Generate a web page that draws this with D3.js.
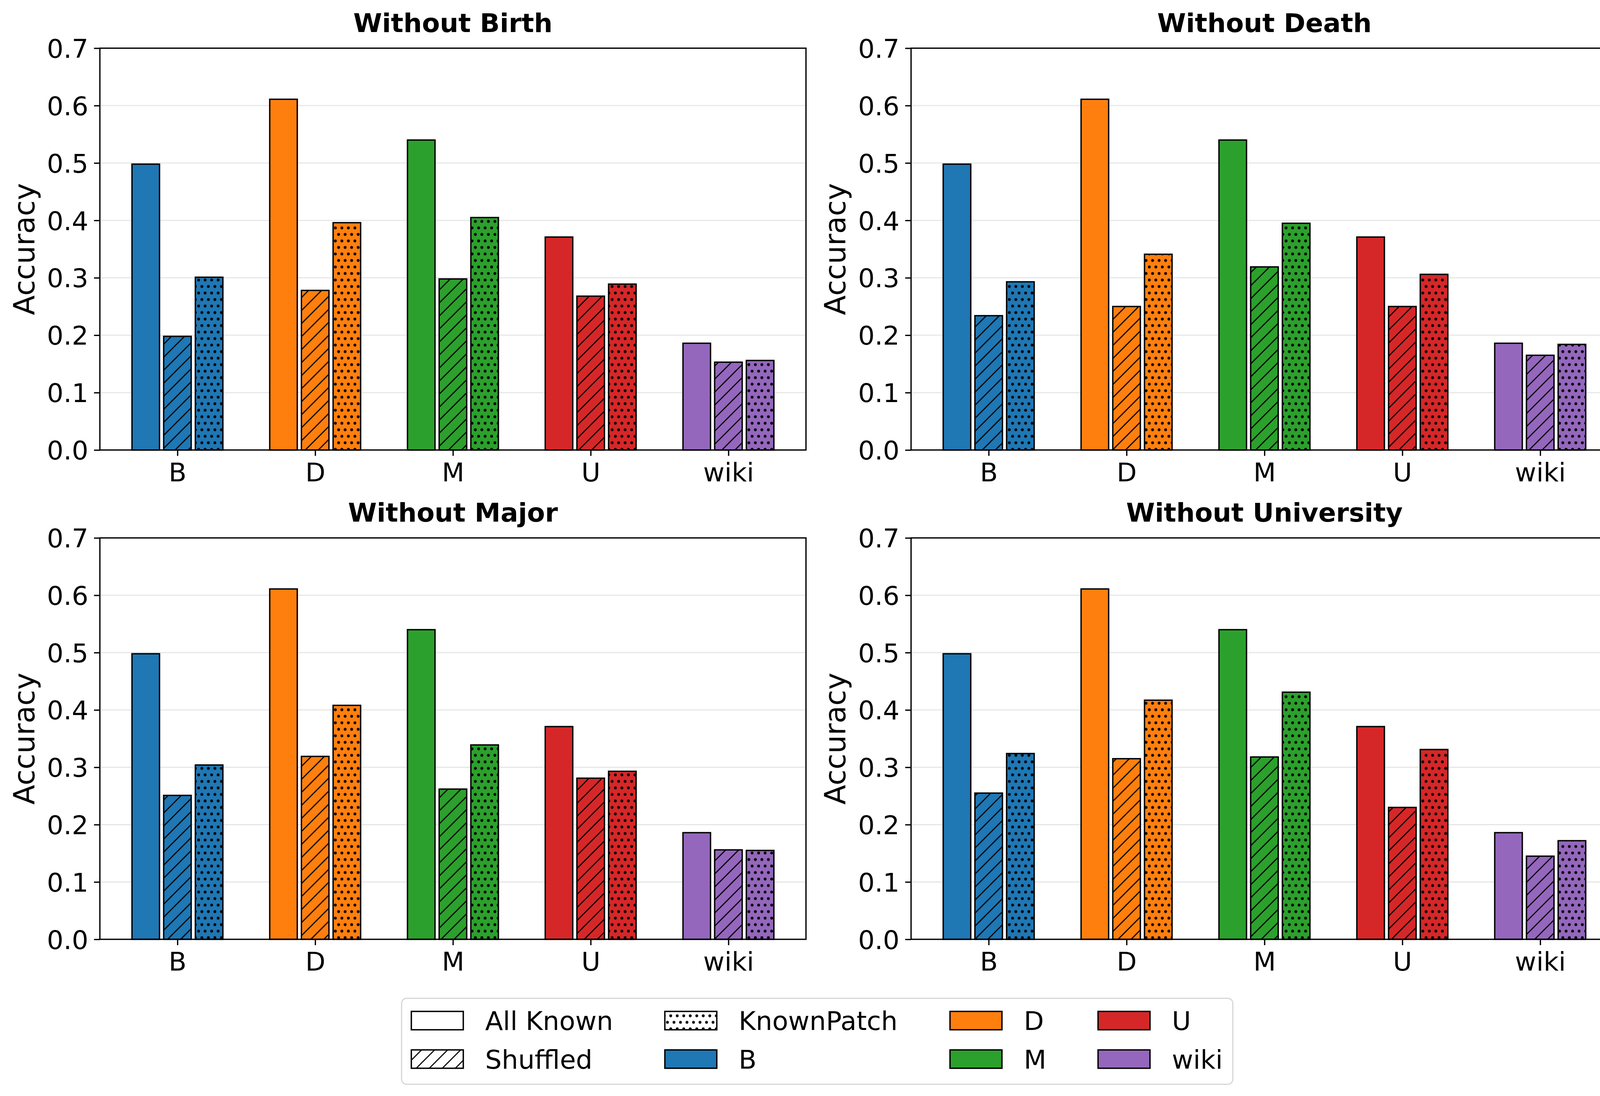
<!DOCTYPE html>
<html>
<head>
<meta charset="utf-8">
<script src="https://cdn.jsdelivr.net/npm/d3@7"></script>
<style>
  html, body { margin: 0; padding: 0; background: #ffffff; }
  svg { display: block; }
  text { font-family: "DejaVu Sans", sans-serif; fill: #000; }
</style>
</head>
<body>
<div id="chart"></div>
<script>
// ---------------- DATA ----------------
const categories = ["B", "D", "M", "U", "wiki"];
const conditions = ["All Known", "Shuffled", "KnownPatch"];
const panelTitles = ["Without Birth", "Without Death", "Without Major", "Without University"];
const categoryColors = ["#1f77b4", "#ff7f0e", "#2ca02c", "#d62728", "#9467bd"];
const yTicks = [0.0, 0.1, 0.2, 0.3, 0.4, 0.5, 0.6, 0.7];

const allKnown = [0.498, 0.611, 0.540, 0.371, 0.186];

const shuffledBirth   = [0.198, 0.278, 0.298, 0.268, 0.153];
const knownPatchBirth = [0.301, 0.396, 0.405, 0.289, 0.156];

const shuffledDeath   = [0.234, 0.250, 0.319, 0.250, 0.165];
const knownPatchDeath = [0.293, 0.341, 0.395, 0.306, 0.184];

const shuffledMajor   = [0.251, 0.319, 0.262, 0.281, 0.156];
const knownPatchMajor = [0.304, 0.408, 0.339, 0.293, 0.155];

const shuffledUniv    = [0.255, 0.315, 0.318, 0.230, 0.145];
const knownPatchUniv  = [0.324, 0.417, 0.431, 0.331, 0.172];

const panelSeries = [
  [allKnown, shuffledBirth, knownPatchBirth],
  [allKnown, shuffledDeath, knownPatchDeath],
  [allKnown, shuffledMajor, knownPatchMajor],
  [allKnown, shuffledUniv, knownPatchUniv]
];

// ---------------- LAYOUT ----------------
const W = 4170, H = 2805;
const FONT = 66.7;
const panelsBox = [
  {x: 255.7,  y: 123.3,  w: 1807.6, h: 1028.4},
  {x: 2332.3, y: 123.3,  w: 1809.4, h: 1028.4},
  {x: 255.7,  y: 1376.7, w: 1807.6, h: 1027.3},
  {x: 2332.3, y: 1376.7, w: 1809.4, h: 1027.3}
];
const barWidth = 0.2, barOffset = 0.23;
const hatchIds = [null, "hatchLines", "hatchDots"];

const svg = d3.select("#chart").append("svg")
  .attr("width", W).attr("height", H)
  .attr("viewBox", `0 0 ${W} ${H}`);
svg.append("rect").attr("width", W).attr("height", H).attr("fill", "#fff");

// ---- patterns ----
const defs = svg.append("defs");
const LP = 33.33;
const pl = defs.append("pattern").attr("id", "hatchLines")
  .attr("patternUnits", "userSpaceOnUse").attr("width", LP).attr("height", LP);
pl.append("path")
  .attr("d", `M0,${LP} L${LP},0 M${-LP/2},${LP/2} L${LP/2},${-LP/2} M${LP/2},${LP*1.5} L${LP*1.5},${LP/2}`)
  .attr("stroke", "#000").attr("stroke-width", 2.8).attr("fill", "none");

const DW = 16.67, DH = 33.33, DR = 3.6;
const pd = defs.append("pattern").attr("id", "hatchDots")
  .attr("patternUnits", "userSpaceOnUse").attr("width", DW).attr("height", DH);
[[0,0],[DW,0],[0,DH],[DW,DH],[DW/2,DH/2]].forEach(([cx, cy]) => {
  pd.append("circle").attr("cx", cx).attr("cy", cy).attr("r", DR).attr("fill", "#000");
});

// ---- panels ----
panelsBox.forEach((box, pi) => {
  const g = svg.append("g");
  const nCat = categories.length;
  const lo = -barOffset - barWidth / 2, hi = (nCat - 1) + barOffset + barWidth / 2;
  const margin = (hi - lo) * 0.05;
  const x = d3.scaleLinear().domain([lo - margin, hi + margin]).range([box.x, box.x + box.w]);
  const y = d3.scaleLinear().domain([0, 0.7]).range([box.y + box.h, box.y]);

  // grid
  g.append("g").selectAll("line").data(yTicks.slice(1, -1)).join("line")
    .attr("x1", box.x).attr("x2", box.x + box.w)
    .attr("y1", d => y(d)).attr("y2", d => y(d))
    .attr("stroke", "#e6e6e6").attr("stroke-width", 2.8);

  // bars
  const series = panelSeries[pi];
  series.forEach((vals, si) => {
    const off = (si - 1) * barOffset;
    const bars = g.append("g");
    vals.forEach((v, ci) => {
      const x0 = x(ci + off - barWidth / 2), x1 = x(ci + off + barWidth / 2);
      const y0 = y(v), y1 = y(0);
      bars.append("rect").attr("x", x0).attr("y", y0).attr("width", x1 - x0).attr("height", y1 - y0)
        .attr("fill", categoryColors[ci]);
      if (hatchIds[si]) {
        bars.append("rect").attr("x", x0).attr("y", y0).attr("width", x1 - x0).attr("height", y1 - y0)
          .attr("fill", `url(#${hatchIds[si]})`);
      }
      bars.append("rect").attr("x", x0).attr("y", y0).attr("width", x1 - x0).attr("height", y1 - y0)
        .attr("fill", "none").attr("stroke", "#000").attr("stroke-width", 3.5);
    });
  });

  // spines
  g.append("rect").attr("x", box.x).attr("y", box.y).attr("width", box.w).attr("height", box.h)
    .attr("fill", "none").attr("stroke", "#000").attr("stroke-width", 3.3);

  // y axis
  const yAxis = d3.axisLeft(y).tickValues(yTicks).tickFormat(d3.format(".1f"))
    .tickSize(15).tickPadding(14.6);
  const ya = g.append("g").attr("transform", `translate(${box.x},0)`).call(yAxis);
  ya.select(".domain").remove();
  ya.selectAll(".tick line").attr("stroke", "#000").attr("stroke-width", 3.3);
  ya.selectAll(".tick text").attr("font-size", FONT).attr("font-family", "DejaVu Sans")
    .attr("fill", "#000").attr("dy", "0.36em");

  // x axis
  const xAxis = d3.axisBottom(x).tickValues(d3.range(nCat)).tickFormat(i => categories[i])
    .tickSize(15).tickPadding(14.6);
  const xa = g.append("g").attr("transform", `translate(0,${box.y + box.h})`).call(xAxis);
  xa.select(".domain").remove();
  xa.selectAll(".tick line").attr("stroke", "#000").attr("stroke-width", 3.3);
  xa.selectAll(".tick text").attr("font-size", FONT).attr("font-family", "DejaVu Sans")
    .attr("fill", "#000").attr("dy", "0.76em");

  // y label
  g.append("text")
    .attr("transform", `translate(${box.x - 168},${box.y + box.h / 2}) rotate(-90)`)
    .attr("text-anchor", "middle").attr("font-size", 74).text("Accuracy");

  // title
  g.append("text").attr("x", box.x + box.w / 2).attr("y", box.y - 41.5)
    .attr("text-anchor", "middle").attr("font-size", FONT).attr("font-weight", "bold")
    .text(panelTitles[pi]);
});

// ---------------- LEGEND ----------------
const lg = svg.append("g");
lg.append("rect").attr("x", 1028).attr("y", 2555).attr("width", 2128).attr("height", 220)
  .attr("rx", 13).attr("ry", 13).attr("fill", "#fff").attr("stroke", "#d6d6d6").attr("stroke-width", 3);

const legendItems = [
  {label: conditions[0], fill: "#fff", hatch: null},
  {label: conditions[1], fill: "#fff", hatch: "hatchLines"},
  {label: conditions[2], fill: "#fff", hatch: "hatchDots"}
].concat(categories.map((c, i) => ({label: c, fill: categoryColors[i], hatch: null})));

const colX = [1053, 1702, 2432, 2811];
const rowCY = [2612, 2710.5];
const handleW = 133, handleH = 47;
legendItems.forEach((it, k) => {
  const col = Math.floor(k / 2), row = k % 2;
  const hx = colX[col], hy = rowCY[row] - handleH / 2;
  lg.append("rect").attr("x", hx).attr("y", hy).attr("width", handleW).attr("height", handleH)
    .attr("fill", it.fill);
  if (it.hatch) {
    lg.append("rect").attr("x", hx).attr("y", hy).attr("width", handleW).attr("height", handleH)
      .attr("fill", `url(#${it.hatch})`);
  }
  lg.append("rect").attr("x", hx).attr("y", hy).attr("width", handleW).attr("height", handleH)
    .attr("fill", "none").attr("stroke", "#000").attr("stroke-width", 3.5);
  lg.append("text").attr("x", hx + handleW + 56).attr("y", rowCY[row] + 24)
    .attr("font-size", FONT).text(it.label);
});
</script>
</body>
</html>
